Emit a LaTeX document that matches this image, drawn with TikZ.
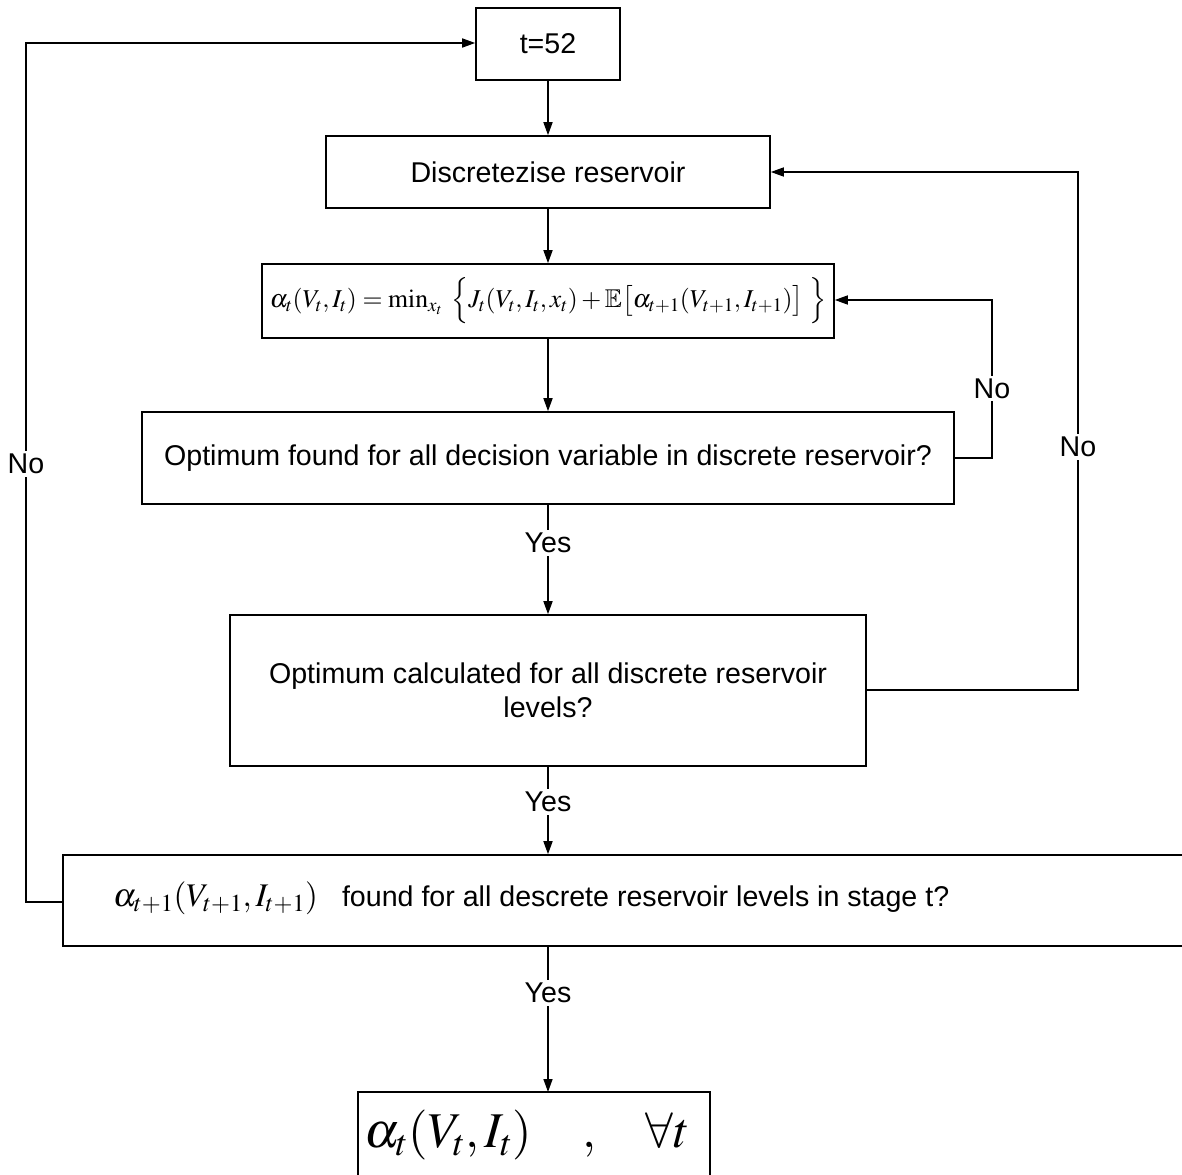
\documentclass[tikz,border=0pt]{standalone}
\usepackage{amsmath}
\usepackage{amssymb}
\usepackage{mathptmx}
\usepackage{fontspec}
\setmainfont{Liberation Sans}
\usetikzlibrary{arrows.meta}
\begin{document}
\begin{tikzpicture}[x=1pt,y=-1pt,
  box/.style={draw,line width=1.6pt,rectangle,inner sep=0pt,font=\fontsize{28.6}{34}\selectfont},
  conn/.style={line width=1.6pt,-{Triangle[length=13pt,width=9pt]}},
  lbl/.style={fill=white,inner sep=3pt,font=\fontsize{28.6}{34}\selectfont}]
\useasboundingbox (0,0) rectangle (1182,1174);
\node[box,minimum width=144pt,minimum height=72pt] (t52) at (548,44) {t=52};
\node[box,minimum width=444pt,minimum height=72pt] (disc) at (548,172) {Discretezise reservoir};
\node[box,minimum width=572pt,minimum height=74pt,font=\fontsize{25.7}{28}\selectfont] (form) at (548,301)
  {$\alpha_t(V_t,I_t)=\min_{x_t}\;\Big\{J_t(V_t,I_t,x_t)+\mathbb{E}\big[\alpha_{t+1}(V_{t+1},I_{t+1})\big]\;\Big\}$};
\node[box,minimum width=812pt,minimum height=92pt] (opt1) at (548,458) {Optimum found for all decision variable in discrete reservoir?};
\node[box,minimum width=636pt,minimum height=151pt,align=center] (opt2) at (548,690.5) {Optimum calculated for all discrete reservoir\\levels?};
\node[box,minimum width=1125pt,minimum height=91pt] (box6) at (625.5,900.5) {};
\node[anchor=west,inner sep=0pt,font=\fontsize{28.6}{34}\selectfont] (box6txt) at (113,898)
  {{\fontsize{33}{36}\selectfont$\alpha_{t+1}(V_{t+1},I_{t+1})$}\hspace{24pt}found for all descrete reservoir levels in stage t?};
\node[box,minimum width=352pt,minimum height=110pt] (final) at (534,1147) {};
\node[anchor=west,inner sep=0pt,font=\fontsize{50}{54}\selectfont] (finaltxt) at (364,1135)
  {$\alpha_t(V_t,I_t)\quad{,}\quad\forall t$};
\coordinate (finaltop) at (548,1092);
\coordinate (c1) at (992,458);
\coordinate (c2) at (992,300);
\coordinate (c3) at (1078,690);
\coordinate (c4) at (1078,172);
\coordinate (c5) at (26,902);
\coordinate (c6) at (26,43);
\draw[conn] (t52) -- (disc);
\draw[conn] (disc) -- (form);
\draw[conn] (form) -- (opt1);
\draw[conn] (opt1) -- node[lbl,pos=0.35] {Yes} (opt2);
\draw[conn] (opt2.south) -- node[lbl,pos=0.4] {Yes} (box6.north -| opt2.south);
\draw[conn] (box6.south -| opt2.south) -- node[lbl,pos=0.32] {Yes} (finaltop);
\draw[conn] (opt1.east) -- (c1) -- node[lbl,pos=0.44] {No} (c2) -- (form.east |- c2);
\draw[conn] (opt2.east |- c3) -- (c3) -- node[lbl,pos=0.47] {No} (c4) -- (disc.east);
\draw[conn] (box6.west |- c5) -- (c5) -- node[lbl,pos=0.51] {No} (c6) -- (t52.west |- c6);
\end{tikzpicture}
\end{document}
